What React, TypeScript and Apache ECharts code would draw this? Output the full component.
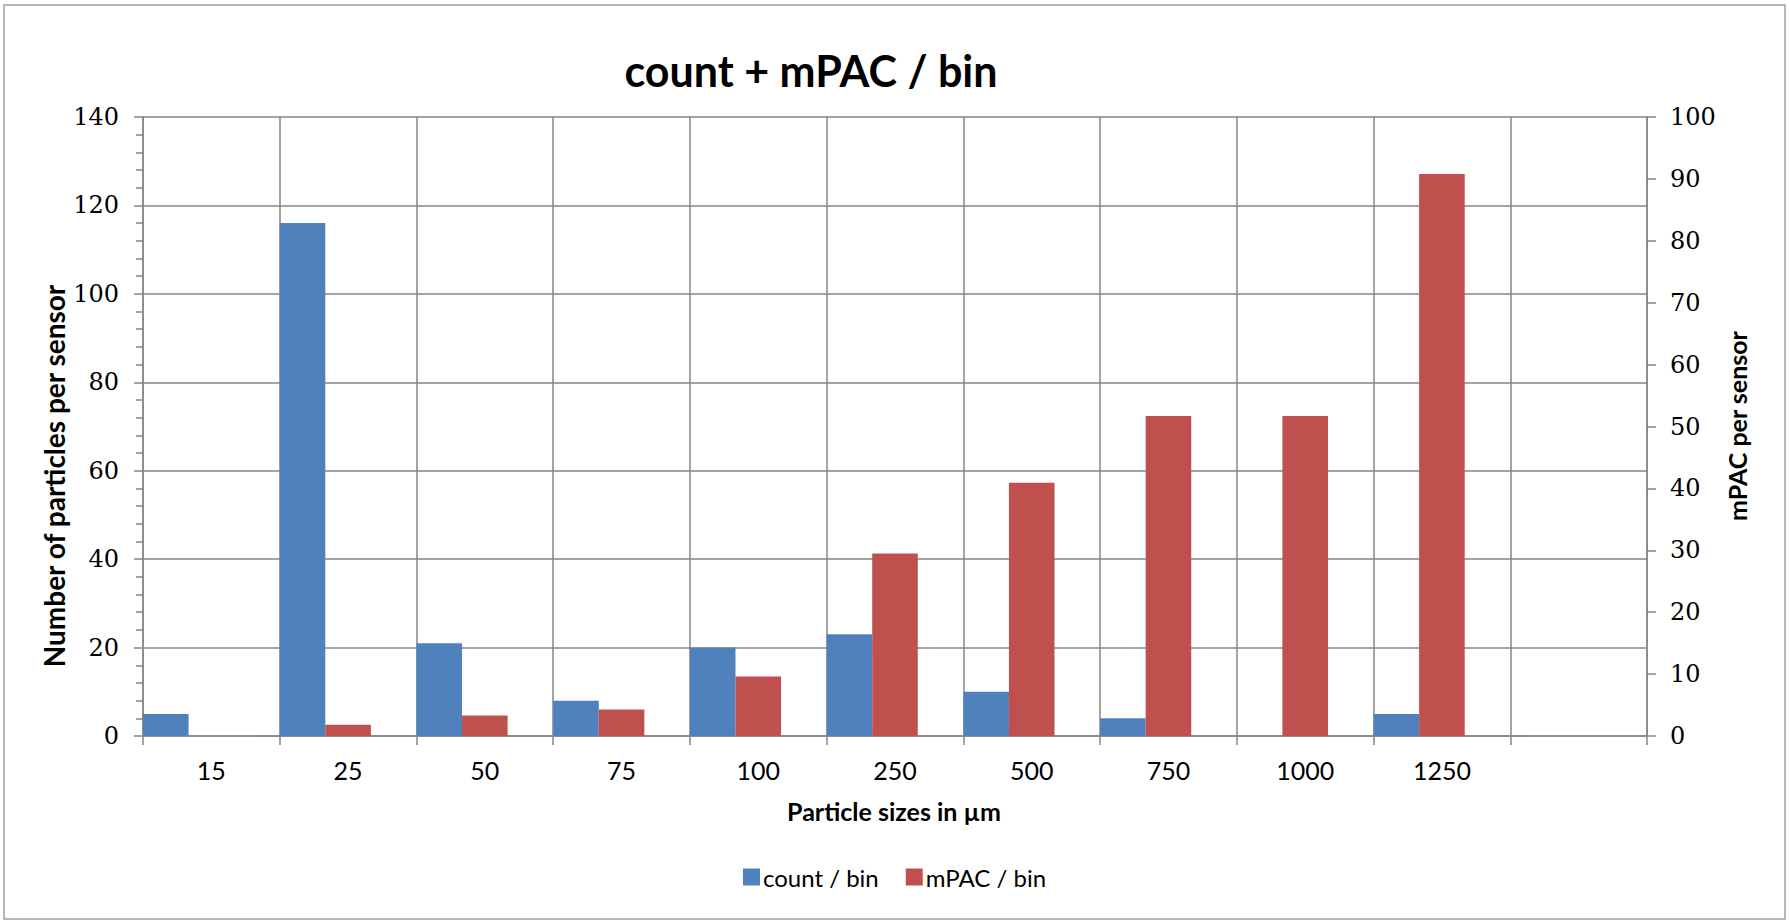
import React, { useEffect, useRef } from "react";
import * as echarts from "echarts";

const categories = ["15", "25", "50", "75", "100", "250", "500", "750", "1000", "1250", ""];
const countPerBin = [5, 116, 21, 8, 20, 23, 10, 4, 0, 5, null];
const mpacPerBin = [0, 1.8, 3.3, 4.3, 9.6, 29.5, 40.9, 51.7, 51.7, 90.8, null];
const emptySeries: (number | null)[] = [];

const BLUE = "#4F81BD";
const RED = "#C0504D";
const GRID = "#868686";

export default function App() {
  const ref = useRef<HTMLDivElement>(null);
  useEffect(() => {
    document.body.style.margin = "0";
    if (!ref.current) return;
    const chart = echarts.init(ref.current, undefined, { renderer: "svg" });
    chart.setOption({
      animation: false,
      backgroundColor: "#ffffff",
      title: {
        text: "count + mPAC / bin",
        left: 806,
        top: 44,
        textAlign: "center",
        textStyle: { fontFamily: "Lato", fontWeight: "bold", fontSize: 43, color: "#000" },
      },
      legend: {
        data: ["count / bin", "mPAC / bin"],
        left: "center",
        top: 860,
        itemWidth: 17,
        itemHeight: 17,
        itemGap: 27,
        icon: "rect",
        textStyle: { fontFamily: "Lato", fontSize: 24, color: "#000", padding: [0, 0, 0, -2] },
      },
      grid: { left: 143, right: 142, top: 117, bottom: 186, containLabel: false },
      xAxis: {
        type: "category",
        data: categories,
        boundaryGap: true,
        axisLine: { show: true, lineStyle: { color: GRID, width: 1.5 } },
        axisTick: { show: true, interval: 0, length: 9, lineStyle: { color: GRID, width: 1.5 } },
        splitLine: { show: true, interval: 0, lineStyle: { color: GRID, width: 1.5 } },
        axisLabel: { interval: 0, margin: 21, fontFamily: "Lato", fontSize: 25, color: "#000" },
      },
      yAxis: [
        {
          type: "value",
          min: 0,
          max: 140,
          interval: 20,
          position: "left",
          axisLine: { show: true, lineStyle: { color: GRID, width: 1.5 } },
          axisTick: { show: true, length: 9, lineStyle: { color: GRID, width: 1.5 } },
          minorTick: { show: true, splitNumber: 5, length: 7, lineStyle: { color: GRID, width: 1.5 } },
          splitLine: { show: true, lineStyle: { color: GRID, width: 1.5 } },
          axisLabel: { margin: 24, fontFamily: "DejaVu Serif", fontSize: 24, color: "#000" },
        },
        {
          type: "value",
          min: 0,
          max: 100,
          interval: 10,
          position: "right",
          axisLine: { show: true, lineStyle: { color: GRID, width: 1.5 } },
          axisTick: { show: true, length: 9, lineStyle: { color: GRID, width: 1.5 } },
          splitLine: { show: false },
          axisLabel: { margin: 23, fontFamily: "DejaVu Serif", fontSize: 24, color: "#000" },
        },
      ],
      graphic: [
        {
          type: "rect",
          shape: { x: 4, y: 5, width: 1781, height: 914 },
          style: { fill: "none", stroke: "#A0A0A0", lineWidth: 1.5 },
          silent: true,
        },
        {
          type: "text",
          x: 54,
          y: 476,
          rotation: Math.PI / 2,
          style: {
            text: "Number of particles per sensor",
            fontFamily: "Lato",
            fontWeight: "bold",
            fontSize: 28,
            fill: "#000",
            textAlign: "center",
            textVerticalAlign: "middle",
          },
        },
        {
          type: "text",
          x: 1737,
          y: 426,
          rotation: Math.PI / 2,
          style: {
            text: "mPAC per sensor",
            fontFamily: "Lato",
            fontWeight: "bold",
            fontSize: 25,
            fill: "#000",
            textAlign: "center",
            textVerticalAlign: "middle",
          },
        },
        {
          type: "text",
          x: 894,
          y: 811,
          style: {
            text: "Particle sizes in µm",
            fontFamily: "Lato",
            fontWeight: "bold",
            fontSize: 25,
            fill: "#000",
            textAlign: "center",
            textVerticalAlign: "middle",
          },
        },
      ],
      series: [
        {
          name: "count / bin",
          type: "bar",
          xAxisIndex: 0,
          yAxisIndex: 0,
          data: countPerBin,
          itemStyle: { color: BLUE },
          barGap: "0%",
          barCategoryGap: "0%",
        },
        {
          name: "mPAC / bin",
          type: "bar",
          xAxisIndex: 0,
          yAxisIndex: 1,
          data: mpacPerBin,
          itemStyle: { color: RED },
          barGap: "0%",
          barCategoryGap: "0%",
        },
        {
          name: "spacer",
          type: "bar",
          xAxisIndex: 0,
          yAxisIndex: 0,
          data: emptySeries,
          itemStyle: { color: "transparent" },
          barGap: "0%",
          barCategoryGap: "0%",
        },
      ],
    });
    return () => chart.dispose();
  }, []);
  return <div ref={ref} style={{ width: 1789, height: 922 }} />;
}
